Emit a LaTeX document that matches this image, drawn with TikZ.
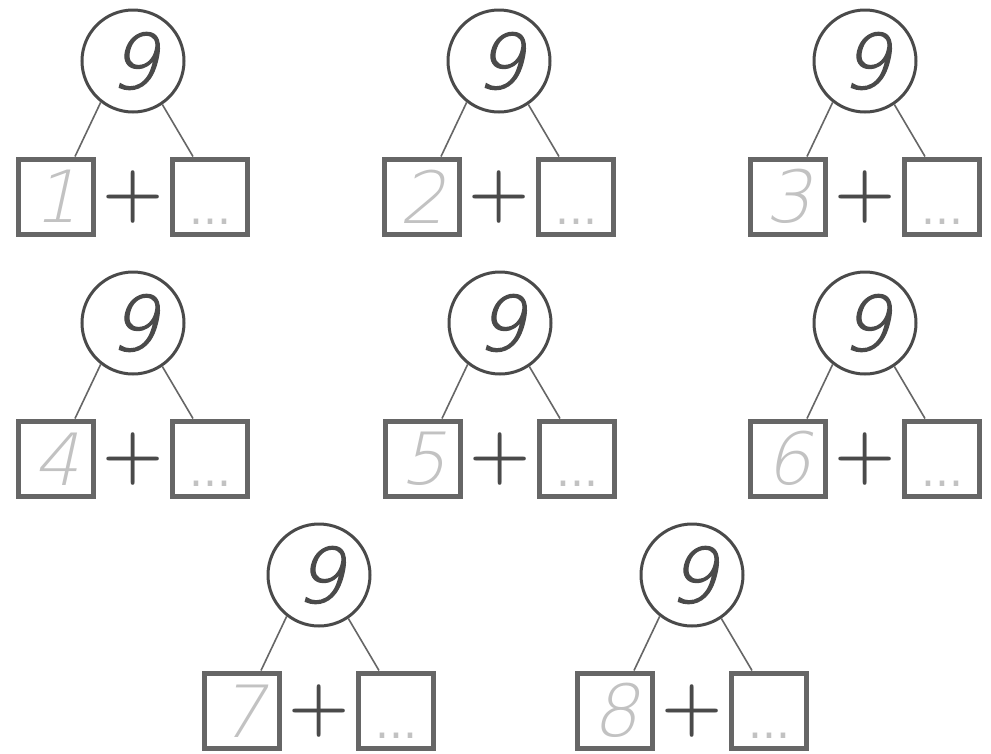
\documentclass[tikz,border=0pt]{standalone}
\usepackage{fontspec}
\usetikzlibrary{positioning}
\newfontfamily\handfont[FakeSlant=0.22]{DejaVu Sans ExtraLight}
\newfontfamily\ninefont[FakeSlant=0.25,FakeBold=1.6]{DejaVu Sans ExtraLight}
\newfontfamily\dotfont{DejaVu Sans}
\definecolor{treeInk}{HTML}{4A4A4A}
\definecolor{boxInk}{HTML}{666666}
\definecolor{hintInk}{HTML}{C2C2C2}
\newcommand{\sumtree}[4]{%
  \node[whole] (#4top) at (#1,#2) {9};
  \node[part,below=43pt of #4top,xshift=-77pt] (#4left) {#3};
  \node[part,below=43pt of #4top,xshift=77pt] (#4right) {};
  \node[plus] (#4plus) at (#4top |- #4left) {+};
  \node[hint] (#4dots) at ([yshift=13pt]#4right.south) {...};
  \draw[link] (#4top.232) -- ([xshift=19pt]#4left.north);
  \draw[link] (#4top.304) -- ([xshift=-17pt]#4right.north);
}

\begin{document}
\begin{tikzpicture}[x=1pt,y=-1pt,
    whole/.style={circle,draw=treeInk,line width=3pt,minimum size=102pt,inner sep=0pt,
      text=treeInk,font=\ninefont\fontsize{76}{76}\selectfont},
    part/.style={draw=boxInk,line width=5.5pt,minimum size=75pt,inner sep=0pt,
      text=hintInk,font=\handfont\fontsize{72}{72}\selectfont},
    plus/.style={inner sep=0pt,text=treeInk,font=\bfseries\fontsize{70}{70}\selectfont},
    hint/.style={anchor=base,inner sep=0pt,text depth=0pt,text=hintInk,
      font=\dotfont\fontsize{44}{44}\selectfont},
    link/.style={draw=boxInk,line width=1.6pt}]
  \useasboundingbox[fill=white] (0,0) rectangle (991,753);

  % first row
  \sumtree{133}{61}{1}{a}
  \sumtree{499}{61}{2}{b}
  \sumtree{865}{61}{3}{c}

  % second row
  \sumtree{133}{323}{4}{d}
  \sumtree{500}{323}{5}{e}
  \sumtree{865}{323}{6}{f}

  % last row
  \sumtree{319}{575}{7}{g}
  \sumtree{692}{575}{8}{h}
\end{tikzpicture}
\end{document}
